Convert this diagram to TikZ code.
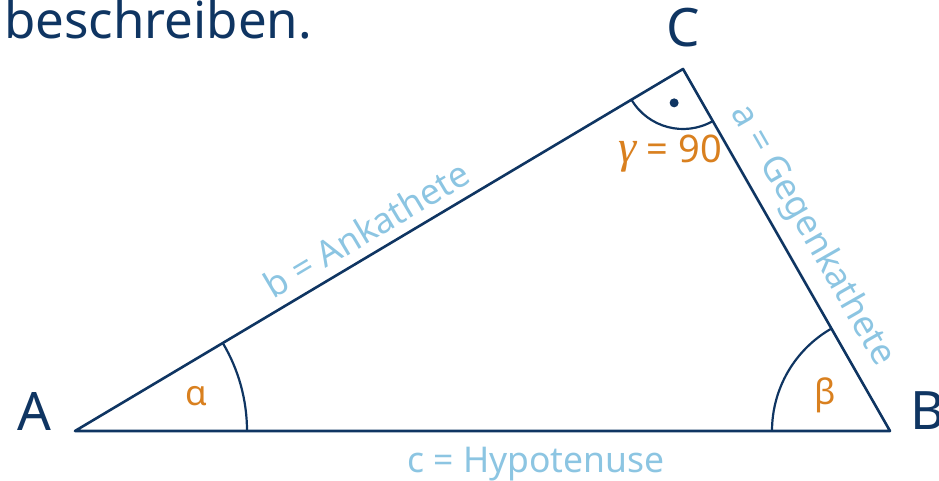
\documentclass[tikz,border=0pt]{standalone}
\usepackage{fontspec}
\setmainfont{Noto Sans}
\newfontfamily\gfont{Liberation Serif}
\usetikzlibrary{calc}
\definecolor{navy}{HTML}{0F3562}
\definecolor{orng}{HTML}{D9801F}
\definecolor{lblue}{HTML}{8CC5E2}
\begin{document}
\begin{tikzpicture}[x=1pt,y=1pt,
  edge/.style={draw=navy,line width=2.6pt,line join=round},
  anglearc/.style={draw=navy,line width=2.2pt},
  vlabel/.style={text=navy,inner sep=0pt,font=\fontsize{53}{60}\selectfont},
  anglabel/.style={text=orng,inner sep=0pt,font=\fontsize{35}{40}\selectfont},
  sidelabel/.style={text=lblue,inner sep=0pt,font=\fontsize{35.5}{40}\selectfont}]
\useasboundingbox (0,0) rectangle (939,481);
\coordinate (A) at (75,50);
\coordinate (B) at (890,50);
\coordinate (C) at (683,412);
% angle arcs
\draw[anglearc] ($(A)+(172,0)$) arc[start angle=0,end angle=30.77,radius=172];
\draw[anglearc] ($(B)+(-118,0)$) arc[start angle=180,end angle=119.76,radius=118];
\draw[anglearc] ($(C)+(210.77:60)$) arc[start angle=210.77,end angle=299.76,radius=60];
\fill[navy] ($(C)+(255.3:35)$) circle[radius=4.5];
% triangle
\draw[edge] (A) -- (B) -- (C) -- cycle;
% vertex labels
\node[vlabel,anchor=base] (lA) at (34.5,50) {A};
\node[vlabel,anchor=base west] (lB) at (910,51) {B};
\node[vlabel,anchor=base] (lC) at (683.5,434) {C};
% heading text
\node[text=navy,inner sep=0pt,anchor=base west,font=\fontsize{51}{60}\selectfont] (head) at (4,442) {beschreiben.};
% angle labels
\node[anglabel] (al) at (196,85) {α};
\node[anglabel] (be) at (825,86) {β};
\node[anglabel,anchor=base east,font=\fontsize{38}{40}\selectfont] (ga) at (722,318) {{\gfont\itshape\fontsize{46}{40}\selectfont γ} = 90};
% side labels
\coordinate (Mb) at ($(A)!0.5!(C)$);
\coordinate (Ma) at ($(C)!0.5!(B)$);
\node[sidelabel,anchor=base,rotate=30.77] (lb) at ($(Mb)!11pt!90:(C)$) {b = Ankathete};
\node[sidelabel,anchor=base,rotate=-60.24] (la) at ($(Ma)!20pt!90:(B)$) {a = Gegenkathete};
\node[sidelabel,anchor=base] (lc) at (536,8.5) {c = Hypotenuse};
\end{tikzpicture}
\end{document}
